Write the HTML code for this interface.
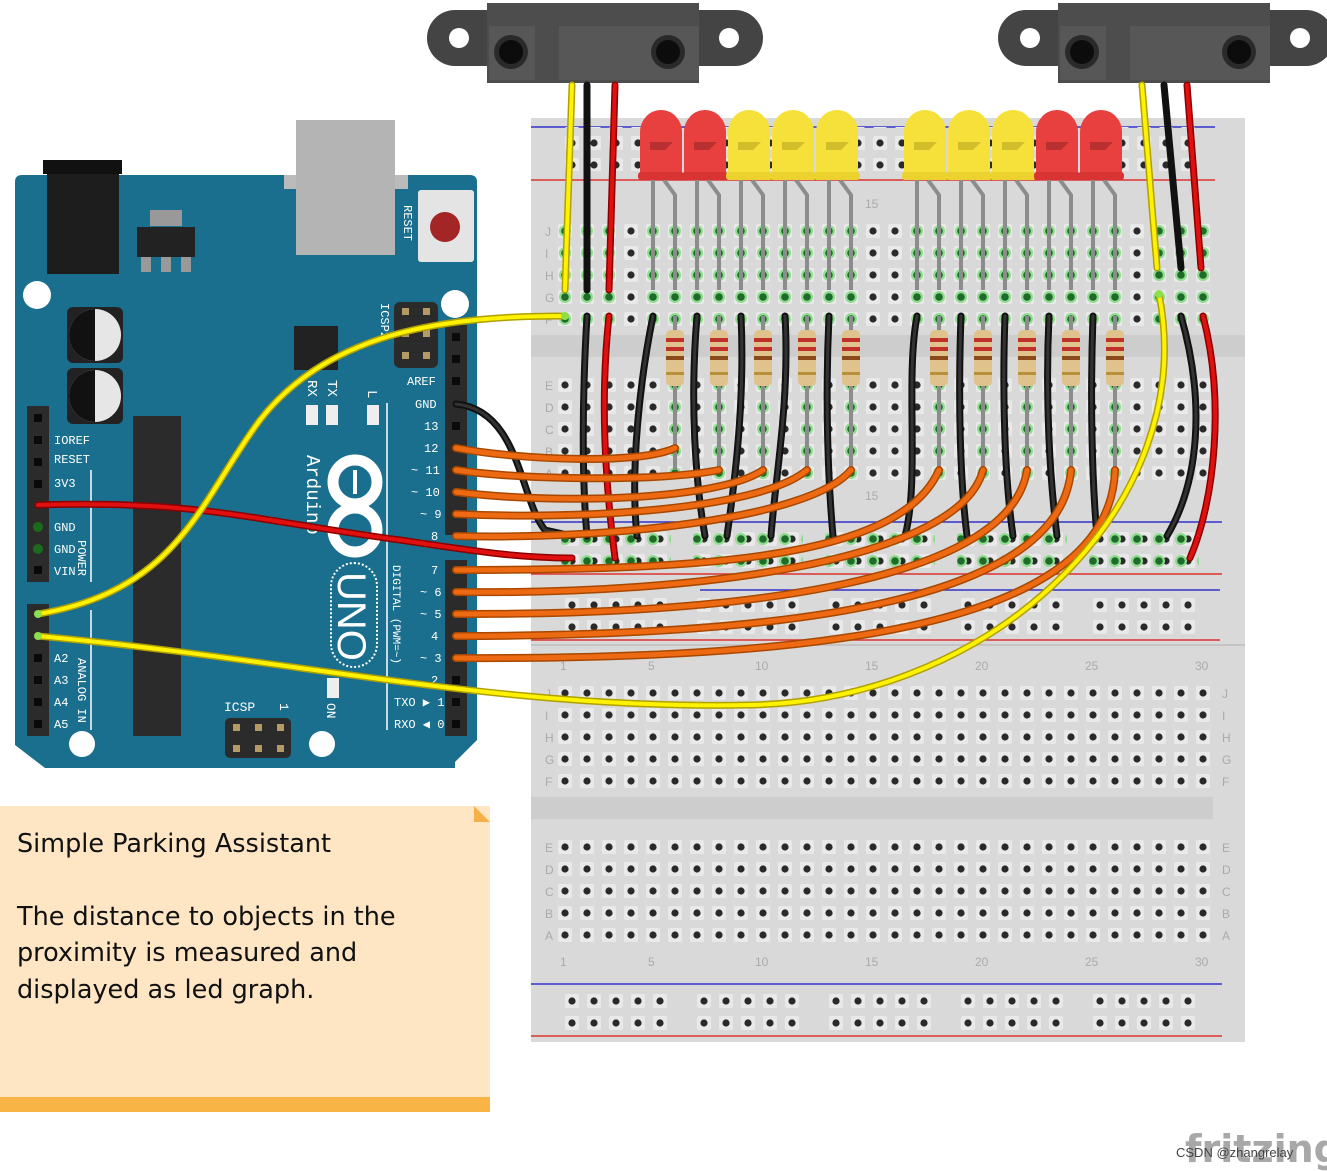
<!DOCTYPE html>
<html><head><meta charset="utf-8"><style>
html,body{margin:0;padding:0;background:#fff;}
svg{display:block;}
.t{font-family:"Liberation Mono","DejaVu Sans Mono",monospace;fill:#fff;}
.bl{font-family:"Liberation Sans",sans-serif;fill:#aaa;}
</style></head><body>
<svg width="1327" height="1171" viewBox="0 0 1327 1171" xmlns="http://www.w3.org/2000/svg">
<defs>
<pattern id="h" x="554" y="0" width="22" height="22" patternUnits="userSpaceOnUse">
<rect x="4" y="4" width="14" height="14" rx="2" fill="#e9e9e9"/><circle cx="11" cy="11" r="3.6" fill="#2a2a2a"/></pattern>
<pattern id="g" x="554" y="0" width="22" height="22" patternUnits="userSpaceOnUse">
<circle cx="11" cy="11" r="6" fill="#8fdc8f"/><circle cx="11" cy="11" r="3.8" fill="#1f6b2a"/></pattern>
<pattern id="rh" x="561" y="0" width="22" height="22" patternUnits="userSpaceOnUse">
<rect x="4" y="4" width="14" height="14" rx="2" fill="#e9e9e9"/><circle cx="11" cy="11" r="3.6" fill="#2a2a2a"/></pattern>
</defs>

<!-- Breadboard -->
<rect x="531" y="118" width="714" height="924" fill="#d9d9d9"/>
<rect x="531" y="335" width="714" height="22" fill="#cdcdcd"/>
<rect x="531" y="797" width="682" height="22" fill="#cdcdcd"/>
<line x1="531" y1="645" x2="1245" y2="645" stroke="#c4c4c4" stroke-width="2"/>
<line x1="531" y1="127" x2="1215" y2="127" stroke="#3333cc" stroke-width="1.5"/>
<line x1="531" y1="180" x2="1215" y2="180" stroke="#dd3333" stroke-width="1.5"/>
<line x1="531" y1="522" x2="1222" y2="522" stroke="#3333cc" stroke-width="1.5"/>
<line x1="531" y1="574" x2="1222" y2="574" stroke="#dd3333" stroke-width="1.5"/>
<line x1="700" y1="590" x2="1220" y2="590" stroke="#3333cc" stroke-width="1.5"/>
<line x1="531" y1="640" x2="1220" y2="640" stroke="#dd3333" stroke-width="1.5"/>
<line x1="531" y1="984" x2="1222" y2="984" stroke="#3333cc" stroke-width="1.5"/>
<line x1="531" y1="1036" x2="1222" y2="1036" stroke="#dd3333" stroke-width="1.5"/>

<rect x="554" y="217" width="660" height="110" fill="url(#h)"/>
<rect x="554" y="371" width="660" height="110" fill="url(#h)"/>
<rect x="554" y="679" width="660" height="110" fill="url(#h)"/>
<rect x="554" y="833" width="660" height="110" fill="url(#h)"/>
<g fill="url(#rh)">
<rect x="561" y="127" width="110" height="44"/><rect x="693" y="127" width="110" height="44"/><rect x="825" y="127" width="110" height="44"/><rect x="957" y="127" width="110" height="44"/><rect x="1089" y="127" width="110" height="44"/>
<rect x="561" y="525" width="110" height="44"/><rect x="693" y="525" width="110" height="44"/><rect x="825" y="525" width="110" height="44"/><rect x="957" y="525" width="110" height="44"/><rect x="1089" y="525" width="110" height="44"/>
<rect x="561" y="593" width="110" height="44"/><rect x="693" y="593" width="110" height="44"/><rect x="825" y="593" width="110" height="44"/><rect x="957" y="593" width="110" height="44"/><rect x="1089" y="593" width="110" height="44"/>
<rect x="561" y="987" width="110" height="44"/><rect x="693" y="987" width="110" height="44"/><rect x="825" y="987" width="110" height="44"/><rect x="957" y="987" width="110" height="44"/><rect x="1089" y="987" width="110" height="44"/>
</g>
<g fill="url(#g)">
<rect x="554" y="217" width="66" height="110"/>
<rect x="642" y="217" width="220" height="110"/>
<rect x="906" y="217" width="220" height="110"/>
<rect x="1148" y="217" width="66" height="110"/>
<rect x="664" y="371" width="22" height="110"/><rect x="708" y="371" width="22" height="110"/><rect x="752" y="371" width="22" height="110"/><rect x="796" y="371" width="22" height="110"/><rect x="840" y="371" width="22" height="110"/>
<rect x="928" y="371" width="22" height="110"/><rect x="972" y="371" width="22" height="110"/><rect x="1016" y="371" width="22" height="110"/><rect x="1060" y="371" width="22" height="110"/><rect x="1104" y="371" width="22" height="110"/>
<rect x="561" y="525" width="110" height="44"/><rect x="693" y="525" width="110" height="44"/><rect x="825" y="525" width="110" height="44"/><rect x="957" y="525" width="110" height="44"/><rect x="1089" y="525" width="110" height="44"/>
</g>
<g class="bl" style="font-size:12px">
<text x="545" y="236">J</text><text x="545" y="258">I</text><text x="545" y="280">H</text><text x="545" y="302">G</text><text x="545" y="324">F</text>
<text x="545" y="390">E</text><text x="545" y="412">D</text><text x="545" y="434">C</text><text x="545" y="456">B</text><text x="545" y="478">A</text>
<text x="545" y="698">J</text><text x="545" y="720">I</text><text x="545" y="742">H</text><text x="545" y="764">G</text><text x="545" y="786">F</text>
<text x="545" y="852">E</text><text x="545" y="874">D</text><text x="545" y="896">C</text><text x="545" y="918">B</text><text x="545" y="940">A</text>
<text x="1222" y="698">J</text><text x="1222" y="720">I</text><text x="1222" y="742">H</text><text x="1222" y="764">G</text><text x="1222" y="786">F</text>
<text x="1222" y="852">E</text><text x="1222" y="874">D</text><text x="1222" y="896">C</text><text x="1222" y="918">B</text><text x="1222" y="940">A</text>
<text x="560" y="670">1</text><text x="648" y="670">5</text><text x="755" y="670">10</text><text x="865" y="670">15</text><text x="975" y="670">20</text><text x="1085" y="670">25</text><text x="1195" y="670">30</text>
<text x="560" y="966">1</text><text x="648" y="966">5</text><text x="755" y="966">10</text><text x="865" y="966">15</text><text x="975" y="966">20</text><text x="1085" y="966">25</text><text x="1195" y="966">30</text>
<text x="865" y="208">15</text><text x="865" y="500">15</text>
</g>

<!-- Arduino -->
<path d="M15,182 Q15,175 22,175 L470,175 Q477,175 477,182 L477,740 L455,762 L455,768 L45,768 L15,745 Z" fill="#1a6f8e"/>
<rect x="43" y="160" width="79" height="14" fill="#111"/>
<rect x="47" y="174" width="72" height="100" fill="#1d1d1d"/>
<rect x="150" y="210" width="32" height="16" fill="#999"/>
<rect x="137" y="227" width="58" height="30" fill="#222"/>
<rect x="141" y="257" width="10" height="15" fill="#999"/><rect x="161" y="257" width="10" height="15" fill="#999"/><rect x="181" y="257" width="10" height="15" fill="#999"/>
<rect x="284" y="175" width="124" height="14" fill="#bbb"/>
<rect x="296" y="120" width="99" height="135" fill="#b4b4b4"/>
<rect x="418" y="190" width="56" height="72" rx="3" fill="#e4e4e4"/>
<circle cx="445" cy="227" r="15" fill="#a32525"/>
<text class="t" transform="translate(404,205) rotate(90)" style="font-size:12px">RESET</text>
<circle cx="37" cy="295" r="14" fill="#fff"/><circle cx="455" cy="304" r="14" fill="#fff"/>
<rect x="67" y="307" width="56" height="56" rx="6" fill="#222"/><circle cx="95" cy="335" r="26" fill="#e6e6e6"/><path d="M95,309 A26,26 0 0,0 95,361 Z" fill="#111"/>
<rect x="67" y="368" width="56" height="56" rx="6" fill="#222"/><circle cx="95" cy="396" r="26" fill="#e6e6e6"/><path d="M95,370 A26,26 0 0,0 95,422 Z" fill="#111"/>
<rect x="133" y="416" width="48" height="320" fill="#2b2b2b"/>
<rect x="294" y="326" width="44" height="44" fill="#222"/>
<rect x="394" y="302" width="44" height="66" rx="6" fill="#2b2b2b"/>
<g fill="#b39a66"><rect x="402" y="308" width="7" height="7"/><rect x="423" y="308" width="7" height="7"/><rect x="402" y="330" width="7" height="7"/><rect x="423" y="330" width="7" height="7"/><rect x="402" y="352" width="7" height="7"/><rect x="423" y="352" width="7" height="7"/></g>
<text class="t" transform="translate(381,303) rotate(90)" style="font-size:12px">ICSP2</text>
<rect x="306" y="405" width="12" height="20" fill="#eee"/><rect x="326" y="405" width="12" height="20" fill="#eee"/><rect x="367" y="405" width="12" height="20" fill="#eee"/>
<text class="t" transform="translate(308,380) rotate(90)" style="font-size:14px">RX</text><text class="t" transform="translate(328,380) rotate(90)" style="font-size:14px">TX</text><text class="t" transform="translate(368,390) rotate(90)" style="font-size:14px">L</text>
<line x1="387" y1="403" x2="387" y2="730" stroke="#fff" stroke-width="1.5"/>
<text class="t" transform="translate(307,455) rotate(90)" style="font-size:19px">Arduino</text>
<g fill="none" stroke="#fff" stroke-width="11"><circle cx="355" cy="482" r="22"/><circle cx="355" cy="530" r="22"/></g>
<rect x="353" y="470" width="4" height="24" fill="#fff"/>
<rect x="331" y="563" width="46" height="104" rx="23" fill="none" stroke="#fff" stroke-width="2" stroke-dasharray="2,2"/>
<text class="t" transform="translate(338,572) rotate(90)" style="font-size:40px;font-family:'Liberation Sans',sans-serif">UNO</text>
<text class="t" transform="translate(393,565) rotate(90)" style="font-size:11px">DIGITAL (PWM=~)</text>
<rect x="327" y="678" width="12" height="20" fill="#eee"/>
<text class="t" transform="translate(327,703) rotate(90)" style="font-size:13px">ON</text>
<rect x="225" y="718" width="66" height="40" rx="5" fill="#2b2b2b"/>
<g fill="#b39a66"><rect x="233" y="724" width="7" height="7"/><rect x="255" y="724" width="7" height="7"/><rect x="277" y="724" width="7" height="7"/><rect x="233" y="745" width="7" height="7"/><rect x="255" y="745" width="7" height="7"/><rect x="277" y="745" width="7" height="7"/></g>
<text class="t" x="224" y="711" style="font-size:13px">ICSP</text><text class="t" transform="translate(280,703) rotate(90)" style="font-size:13px">1</text>
<circle cx="82" cy="744" r="13" fill="#fff"/><circle cx="322" cy="744" r="13" fill="#fff"/>
<rect x="445" y="325" width="22" height="210" fill="#2b2b2b"/>
<rect x="445" y="560" width="22" height="176" fill="#2b2b2b"/>
<rect x="27" y="406" width="22" height="176" fill="#2b2b2b"/>
<rect x="27" y="604" width="22" height="132" fill="#2b2b2b"/>
<g fill="#0a0a0a">
<rect x="452" y="333" width="8" height="8"/><rect x="452" y="355" width="8" height="8"/><rect x="452" y="377" width="8" height="8"/><rect x="452" y="422" width="8" height="8"/>
<rect x="452" y="676" width="8" height="8"/><rect x="452" y="698" width="8" height="8"/><rect x="452" y="720" width="8" height="8"/>
<rect x="34" y="414" width="8" height="8"/><rect x="34" y="436" width="8" height="8"/><rect x="34" y="458" width="8" height="8"/><rect x="34" y="480" width="8" height="8"/><rect x="34" y="566" width="8" height="8"/>
<rect x="34" y="654" width="8" height="8"/><rect x="34" y="676" width="8" height="8"/><rect x="34" y="698" width="8" height="8"/><rect x="34" y="720" width="8" height="8"/>
</g>
<g fill="#1c6b1c"><circle cx="38" cy="527" r="5"/><circle cx="38" cy="549" r="5"/></g>
<g class="t" style="font-size:12px">
<text x="407" y="385">AREF</text><text x="415" y="408">GND</text><text x="424" y="430">13</text><text x="424" y="452">12</text><text x="411" y="474">~ 11</text><text x="411" y="496">~ 10</text><text x="420" y="518">~ 9</text><text x="431" y="540">8</text>
<text x="431" y="574">7</text><text x="420" y="596">~ 6</text><text x="420" y="618">~ 5</text><text x="431" y="640">4</text><text x="420" y="662">~ 3</text><text x="431" y="684">2</text><text x="394" y="706">TXO ▶ 1</text><text x="394" y="728">RXO ◀ 0</text>
<text x="54" y="444">IOREF</text><text x="54" y="463">RESET</text><text x="54" y="487">3V3</text><text x="54" y="531">GND</text><text x="54" y="553">GND</text><text x="54" y="575">VIN</text>
<text x="54" y="662">A2</text><text x="54" y="684">A3</text><text x="54" y="706">A4</text><text x="54" y="728">A5</text>
</g>
<text class="t" transform="translate(78,540) rotate(90)" style="font-size:12px">POWER</text>
<text class="t" transform="translate(78,658) rotate(90)" style="font-size:12px">ANALOG IN</text>
<line x1="91" y1="470" x2="91" y2="582" stroke="#fff" stroke-width="1.5"/>
<line x1="91" y1="610" x2="91" y2="730" stroke="#fff" stroke-width="1.5"/>

<!-- Sensors -->
<g>
<path d="M455,10 L735,10 A28,28 0 0 1 735,66 L455,66 A28,28 0 0 1 455,10 Z" fill="#444"/>
<circle cx="459" cy="38" r="10" fill="#fff"/><circle cx="729" cy="38" r="10" fill="#fff"/>
<rect x="487" y="3" width="212" height="80" fill="#4d4d4d"/>
<rect x="489" y="26" width="46" height="54" fill="#575757"/><rect x="559" y="26" width="140" height="54" fill="#575757"/>
<circle cx="511" cy="52" r="17" fill="#2a2a2a"/><circle cx="511" cy="52" r="12" fill="#0c0c0c"/>
<circle cx="668" cy="52" r="17" fill="#2a2a2a"/><circle cx="668" cy="52" r="12" fill="#0c0c0c"/>
</g>
<g transform="translate(571,0)">
<path d="M455,10 L735,10 A28,28 0 0 1 735,66 L455,66 A28,28 0 0 1 455,10 Z" fill="#444"/>
<circle cx="459" cy="38" r="10" fill="#fff"/><circle cx="729" cy="38" r="10" fill="#fff"/>
<rect x="487" y="3" width="212" height="80" fill="#4d4d4d"/>
<rect x="489" y="26" width="46" height="54" fill="#575757"/><rect x="559" y="26" width="140" height="54" fill="#575757"/>
<circle cx="511" cy="52" r="17" fill="#2a2a2a"/><circle cx="511" cy="52" r="12" fill="#0c0c0c"/>
<circle cx="668" cy="52" r="17" fill="#2a2a2a"/><circle cx="668" cy="52" r="12" fill="#0c0c0c"/>
</g>

<g stroke="#8c8c8c" stroke-width="4" fill="none">
<path d="M653,180 V290"/><path d="M664,180 L675,195 V290"/>
<path d="M697,180 V290"/><path d="M708,180 L719,195 V290"/>
<path d="M741,180 V290"/><path d="M752,180 L763,195 V290"/>
<path d="M785,180 V290"/><path d="M796,180 L807,195 V290"/>
<path d="M829,180 V290"/><path d="M840,180 L851,195 V290"/>
<path d="M917,180 V290"/><path d="M928,180 L939,195 V290"/>
<path d="M961,180 V290"/><path d="M972,180 L983,195 V290"/>
<path d="M1005,180 V290"/><path d="M1016,180 L1027,195 V290"/>
<path d="M1049,180 V290"/><path d="M1060,180 L1071,195 V290"/>
<path d="M1093,180 V290"/><path d="M1104,180 L1115,195 V290"/>
<path d="M675,316 V470"/><path d="M719,316 V470"/><path d="M763,316 V470"/><path d="M807,316 V470"/><path d="M851,316 V470"/>
<path d="M939,316 V470"/><path d="M983,316 V470"/><path d="M1027,316 V470"/><path d="M1071,316 V470"/><path d="M1115,316 V470"/>
</g>
<g>
<g id="ledr"><path d="M640,180 V132 A21,22 0 0 1 682,132 V180 Z" fill="#e8403f"/><rect x="638" y="172" width="46" height="8" rx="3" fill="#d83434"/><path d="M650,142 H673 L665,150 H650 Z" fill="#b83030"/></g>
<use href="#ledr" x="44"/>
<g id="ledy"><path d="M728,180 V132 A21,22 0 0 1 770,132 V180 Z" fill="#f5e13a"/><rect x="726" y="172" width="46" height="8" rx="3" fill="#ecd22e"/><path d="M738,142 H761 L753,150 H738 Z" fill="#d2bd2a"/></g>
<use href="#ledy" x="44"/><use href="#ledy" x="88"/>
<use href="#ledy" x="176"/><use href="#ledy" x="220"/><use href="#ledy" x="264"/>
<use href="#ledr" x="396"/><use href="#ledr" x="440"/>
</g>
<g id="res"><rect x="666" y="330" width="18" height="56" rx="5" fill="#e0c38c"/><rect x="666" y="338" width="18" height="4" fill="#c0302a"/><rect x="666" y="347" width="18" height="4" fill="#c0302a"/><rect x="666" y="356" width="18" height="4" fill="#8a4a1a"/><rect x="666" y="372" width="18" height="3" fill="#b8903a"/></g>
<use href="#res" x="44"/><use href="#res" x="88"/><use href="#res" x="132"/><use href="#res" x="176"/>
<use href="#res" x="264"/><use href="#res" x="308"/><use href="#res" x="352"/><use href="#res" x="396"/><use href="#res" x="440"/>

<g fill="none" stroke-linecap="round">
<g stroke="#111" stroke-width="7">
<path d="M587,85 L587,290"/><path d="M1164,85 L1181,268"/>
<path d="M456,404 C520,410 520,500 545,530 L572,536"/>
<path d="M587,316 C582,400 582,480 587,536"/>
<path d="M653,316 C640,380 630,470 637,536"/>
<path d="M697,316 C690,400 695,480 705,536"/>
<path d="M741,316 C745,400 735,480 727,536"/>
<path d="M785,316 C790,400 775,480 771,536"/>
<path d="M829,316 C825,400 828,480 833,536"/>
<path d="M917,316 C905,380 920,480 905,536"/>
<path d="M961,316 C958,400 960,480 967,536"/>
<path d="M1005,316 C1002,400 1005,480 1013,536"/>
<path d="M1049,316 C1045,400 1050,480 1057,536"/>
<path d="M1093,316 C1090,400 1092,480 1097,536"/>
<path d="M1181,316 C1205,400 1200,480 1167,536"/>
</g>
<g stroke="#333" stroke-width="3">
<path d="M456,404 C520,410 520,500 545,530 L572,536"/>
<path d="M587,316 C582,400 582,480 587,536"/><path d="M653,316 C640,380 630,470 637,536"/><path d="M697,316 C690,400 695,480 705,536"/><path d="M741,316 C745,400 735,480 727,536"/><path d="M785,316 C790,400 775,480 771,536"/><path d="M829,316 C825,400 828,480 833,536"/><path d="M917,316 C905,380 920,480 905,536"/><path d="M961,316 C958,400 960,480 967,536"/><path d="M1005,316 C1002,400 1005,480 1013,536"/><path d="M1049,316 C1045,400 1050,480 1057,536"/><path d="M1093,316 C1090,400 1092,480 1097,536"/><path d="M1181,316 C1205,400 1200,480 1167,536"/>
</g>
<g stroke="#8a0000" stroke-width="7">
<path d="M615,85 L609,290"/><path d="M1187,85 L1201,268"/>
<path d="M609,316 C600,400 605,480 615,558"/>
<path d="M1203,316 C1225,400 1215,500 1190,558"/>
<path d="M38,505 C200,500 250,520 400,540 C480,552 520,558 572,558"/>
</g>
<g stroke="#e01010" stroke-width="4">
<path d="M615,85 L609,290"/><path d="M1187,85 L1201,268"/>
<path d="M609,316 C600,400 605,480 615,558"/>
<path d="M1203,316 C1225,400 1215,500 1190,558"/>
<path d="M38,505 C200,500 250,520 400,540 C480,552 520,558 572,558"/>
</g>
<g stroke="#a84800" stroke-width="8">
<path d="M456,448 C520,460 640,465 675,448"/>
<path d="M456,470 C520,480 660,482 719,470"/>
<path d="M456,492 C560,505 720,500 763,470"/>
<path d="M456,514 C580,520 760,510 807,470"/>
<path d="M456,536 C600,540 810,520 851,470"/>
<path d="M456,570 C700,570 900,560 939,470"/>
<path d="M456,592 C700,595 960,560 983,470"/>
<path d="M456,614 C750,615 1010,580 1027,470"/>
<path d="M456,636 C800,636 1060,600 1071,470"/>
<path d="M456,658 C850,660 1110,620 1115,470"/>
</g>
<g stroke="#ee6a12" stroke-width="5">
<path d="M456,448 C520,460 640,465 675,448"/>
<path d="M456,470 C520,480 660,482 719,470"/>
<path d="M456,492 C560,505 720,500 763,470"/>
<path d="M456,514 C580,520 760,510 807,470"/>
<path d="M456,536 C600,540 810,520 851,470"/>
<path d="M456,570 C700,570 900,560 939,470"/>
<path d="M456,592 C700,595 960,560 983,470"/>
<path d="M456,614 C750,615 1010,580 1027,470"/>
<path d="M456,636 C800,636 1060,600 1071,470"/>
<path d="M456,658 C850,660 1110,620 1115,470"/>
</g>
<g stroke="#b0a000" stroke-width="7">
<path d="M572,85 L565,290"/><path d="M1142,85 L1157,268"/>
<path d="M38,614 C180,590 200,500 260,420 C330,330 450,316 565,316"/>
<path d="M38,636 C300,660 500,710 750,705 C1000,700 1200,500 1159,294"/>
</g>
<g stroke="#fff200" stroke-width="4">
<path d="M572,85 L565,290"/><path d="M1142,85 L1157,268"/>
<path d="M38,614 C180,590 200,500 260,420 C330,330 450,316 565,316"/>
<path d="M38,636 C300,660 500,710 750,705 C1000,700 1200,500 1159,294"/>
</g>
</g>
<g fill="#8ee04a"><circle cx="38" cy="614" r="4"/><circle cx="38" cy="636" r="4"/><circle cx="565" cy="316" r="4"/><circle cx="1159" cy="294" r="4"/></g>

<rect x="0" y="806" width="490" height="306" fill="#fee5c4"/>
<path d="M474,806 L490,822 L474,822 Z" fill="#f5b04a"/>
<rect x="0" y="1097" width="490" height="15" fill="#f8b444"/>
<g style="font-family:'DejaVu Sans','Liberation Sans',sans-serif;font-size:25.5px" fill="#111">
<text x="17" y="852">Simple Parking Assistant</text>
<text x="17" y="925">The distance to objects in the</text>
<text x="17" y="961">proximity is measured and</text>
<text x="17" y="998">displayed as led graph.</text>
</g>
<text x="1185" y="1162" style="font-family:'DejaVu Sans','Liberation Sans',sans-serif;font-size:38px;font-weight:bold" fill="#a8a8a8">fritzing</text>
<text x="1176" y="1157" style="font-family:'Liberation Sans',sans-serif;font-size:13px" fill="#444">CSDN @zhangrelay</text>
</svg>
</body></html>
